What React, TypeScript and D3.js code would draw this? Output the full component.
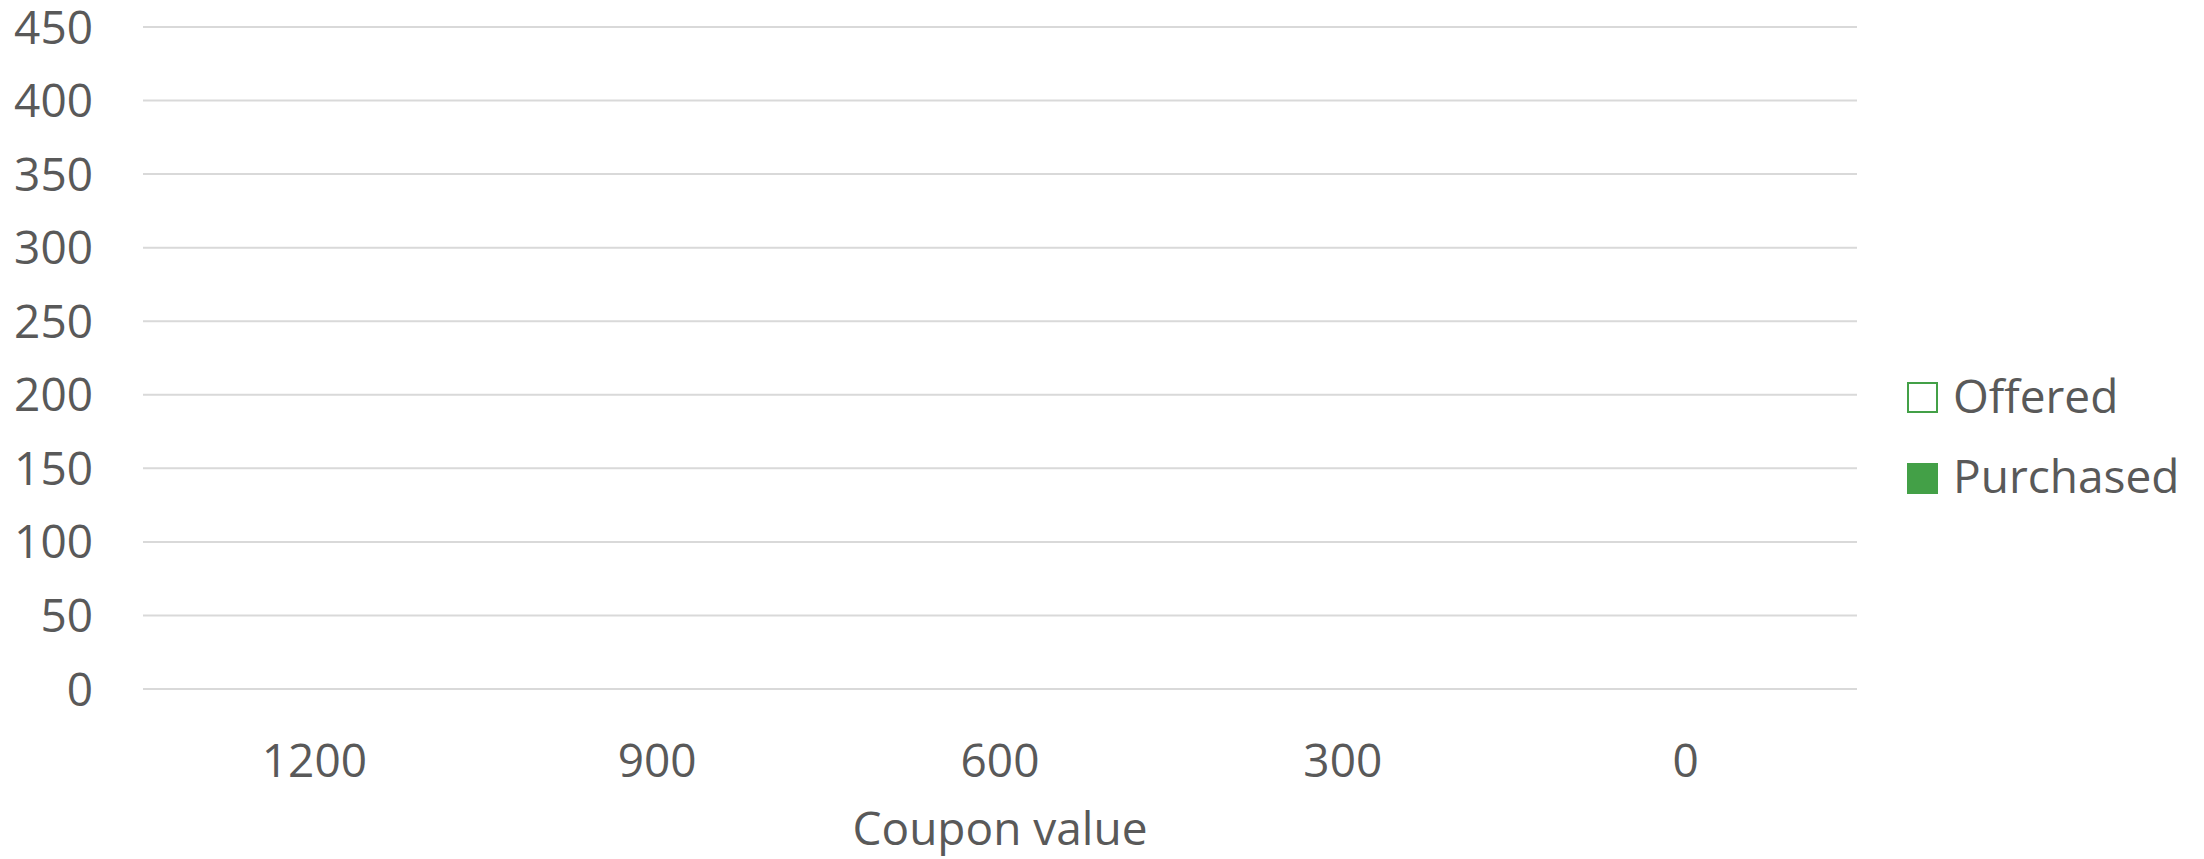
import React from "react";
import * as d3 from "d3";

const categories = ["1200", "900", "600", "300", "0"];
const offered = [0, 0, 0, 0, 0];
const purchased = [0, 0, 0, 0, 0];
const yTicks = [0, 50, 100, 150, 200, 250, 300, 350, 400, 450];
const seriesNames = ["Offered", "Purchased"];
const xTitle = "Coupon value";

const W = 2204;
const H = 859;
const left = 143;
const right = 1857;
const top = 27;
const bottom = 689;
const green = "#43a047";
const textColor = "#595959";
const font = "'Open Sans', 'Noto Sans', sans-serif";
const fs = 46;

export default function App() {
  const x = d3.scaleBand<string>().domain(categories).range([left, right]).paddingInner(0.4).paddingOuter(0.2);
  const outer = d3.scaleBand<string>().domain(categories).range([left, right]);
  const y = d3.scaleLinear().domain([0, 450]).range([bottom, top]);
  const inner = d3.scaleBand<string>().domain(seriesNames).range([0, x.bandwidth()]).padding(0.1);

  return (
    <svg width={W} height={H} style={{ position: "absolute", left: 0, top: 0, background: "#fff" }} fontFamily={font}>
      <rect x={0} y={0} width={W} height={H} fill="#fff" />
      {yTicks.map((t) => (
        <g key={t}>
          <line x1={left} x2={right} y1={y(t)} y2={y(t)} stroke="#d9d9d9" strokeWidth={2} />
          <text x={93} y={y(t) + 16.5} textAnchor="end" fontSize={fs} fill={textColor}>
            {t}
          </text>
        </g>
      ))}
      {categories.map((c, i) => (
        <g key={c}>
          <rect
            x={(x(c) ?? 0) + (inner("Offered") ?? 0)}
            y={y(offered[i])}
            width={inner.bandwidth()}
            height={y(0) - y(offered[i])}
            fill="none"
            stroke={green}
            strokeWidth={offered[i] > 0 ? 2 : 0}
          />
          <rect
            x={(x(c) ?? 0) + (inner("Purchased") ?? 0)}
            y={y(purchased[i])}
            width={inner.bandwidth()}
            height={y(0) - y(purchased[i])}
            fill={green}
          />
          <text x={(outer(c) ?? 0) + outer.bandwidth() / 2} y={777} textAnchor="middle" fontSize={fs} fill={textColor}>
            {c}
          </text>
        </g>
      ))}
      <text x={(left + right) / 2} y={845} textAnchor="middle" fontSize={fs} fill={textColor}>
        {xTitle}
      </text>
      <g>
        <rect x={1908} y={383} width={29} height={29} fill="#fff" stroke={green} strokeWidth={2} />
        <text x={1953} y={413} fontSize={fs} fill={textColor}>
          {seriesNames[0]}
        </text>
        <rect x={1907} y={463} width={31} height={31} fill={green} />
        <text x={1953} y={493} fontSize={fs} fill={textColor}>
          {seriesNames[1]}
        </text>
      </g>
    </svg>
  );
}
